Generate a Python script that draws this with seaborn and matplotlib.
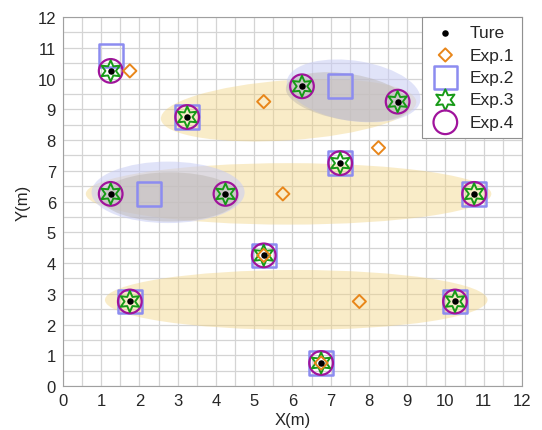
import numpy as np
import matplotlib
matplotlib.use('Agg')
import matplotlib.pyplot as plt
from matplotlib.patches import Ellipse
from matplotlib.ticker import MultipleLocator
import seaborn as sns

# true positions
ture_x = [1.25, 3.25, 6.25, 8.75, 7.25, 1.25, 4.25, 10.75, 5.25, 1.75, 10.25, 6.75]
ture_y = [10.25, 8.75, 9.75, 9.25, 7.25, 6.25, 6.25, 6.25, 4.25, 2.75, 2.75, 0.75]

# Exp.1 estimates (diamonds)
exp1_x = [1.75, 5.25, 8.25, 5.75, 5.25, 7.75, 6.75]
exp1_y = [10.25, 9.25, 7.75, 6.25, 4.25, 2.75, 0.75]

# Exp.2 estimates (squares)
exp2_x = [1.25, 3.25, 7.25, 7.25, 2.25, 10.75, 5.25, 1.75, 10.25, 6.75]
exp2_y = [10.75, 8.75, 9.75, 7.25, 6.25, 6.25, 4.25, 2.75, 2.75, 0.75]

# Exp.3 / Exp.4 hit every true point
exp3_x, exp3_y = ture_x, ture_y
exp4_x, exp4_y = ture_x, ture_y

# shaded regions (yellow: Exp.1 groups, grey: Exp.2 groups)
yel_cx = [5.9, 5.9, 6.1]
yel_cy = [8.97, 6.25, 2.8]
yel_w = [6.7, 10.6, 10.0]
yel_h = [1.95, 2.0, 1.95]
yel_ang = [5, 0, 0]

blu_cx = [2.75, 7.6]
blu_cy = [6.3, 9.6]
blu_w = [4.0, 3.55]
blu_h = [2.0, 1.95]
blu_ang = [0, -12]

gry_cx = [2.8, 7.45]
gry_cy = [6.15, 9.4]
gry_w = [3.6, 3.3]
gry_h = [1.6, 1.5]
gry_ang = [0, -12]

sns.set_style('white')
plt.rcParams['font.family'] = ['Liberation Sans', 'DejaVu Sans']

fig, ax = plt.subplots(figsize=(5.42, 4.31), dpi=100)
fig.subplots_adjust(left=0.116, right=0.963, bottom=0.102, top=0.958)

for cx, cy, w, h, a in zip(yel_cx, yel_cy, yel_w, yel_h, yel_ang):
    ax.add_patch(Ellipse((cx, cy), w, h, angle=a, facecolor='#F2D27E',
                         alpha=0.42, edgecolor='none', zorder=1))
for cx, cy, w, h, a in zip(blu_cx, blu_cy, blu_w, blu_h, blu_ang):
    ax.add_patch(Ellipse((cx, cy), w, h, angle=a, facecolor='#C8CCF4',
                         alpha=0.55, edgecolor='none', zorder=1.1))
for cx, cy, w, h, a in zip(gry_cx, gry_cy, gry_w, gry_h, gry_ang):
    ax.add_patch(Ellipse((cx, cy), w, h, angle=a, facecolor='#BAB4AE',
                         alpha=0.45, edgecolor='none', zorder=1.2))

sns.scatterplot(x=exp2_x, y=exp2_y, marker='s', s=290, facecolor='none',
                edgecolor='#8C8CF0', linewidth=1.8, label='Exp.2', ax=ax, zorder=3)
sns.scatterplot(x=exp4_x, y=exp4_y, marker='o', s=290, facecolor='none',
                edgecolor='#A0139C', linewidth=1.6, label='Exp.4', ax=ax, zorder=4)
sns.scatterplot(x=exp3_x, y=exp3_y, marker=(6, 1, 0), s=230, facecolor='none',
                edgecolor='#179A17', linewidth=1.4, label='Exp.3', ax=ax, zorder=5)
sns.scatterplot(x=exp1_x, y=exp1_y, marker='D', s=45, facecolor='none',
                edgecolor='#E8861A', linewidth=1.4, label='Exp.1', ax=ax, zorder=6)
sns.scatterplot(x=ture_x, y=ture_y, marker='o', s=22, color='black',
                edgecolor='black', linewidth=0, label='Ture', ax=ax, zorder=7)

ax.set_xlim(0, 12)
ax.set_ylim(0, 12)
ax.xaxis.set_major_locator(MultipleLocator(1))
ax.yaxis.set_major_locator(MultipleLocator(1))
ax.xaxis.set_minor_locator(MultipleLocator(0.5))
ax.yaxis.set_minor_locator(MultipleLocator(0.5))
ax.grid(True, which='both', color='#D4D4D4', linewidth=0.9, zorder=0)
ax.set_axisbelow(True)
ax.tick_params(axis='both', which='both', length=0, labelsize=12, pad=5)
for sp in ax.spines.values():
    sp.set_color('#A0A0A0')
    sp.set_linewidth(0.8)

ax.set_xlabel('X(m)', fontsize=12, labelpad=3)
ax.set_ylabel('Y(m)', fontsize=12, labelpad=5)

handles, labels = ax.get_legend_handles_labels()
order = ['Ture', 'Exp.1', 'Exp.2', 'Exp.3', 'Exp.4']
hmap = dict(zip(labels, handles))
leg = ax.legend([hmap[k] for k in order], order, loc='upper right',
                borderaxespad=0, fontsize=12.5, frameon=True, fancybox=False,
                labelspacing=0.42, handletextpad=0.5, borderpad=0.45,
                handlelength=1.8, framealpha=1)
leg.get_frame().set_edgecolor('#909090')
leg.get_frame().set_linewidth(0.8)
leg.set_zorder(10)

fig.savefig('out.png', dpi=100)
